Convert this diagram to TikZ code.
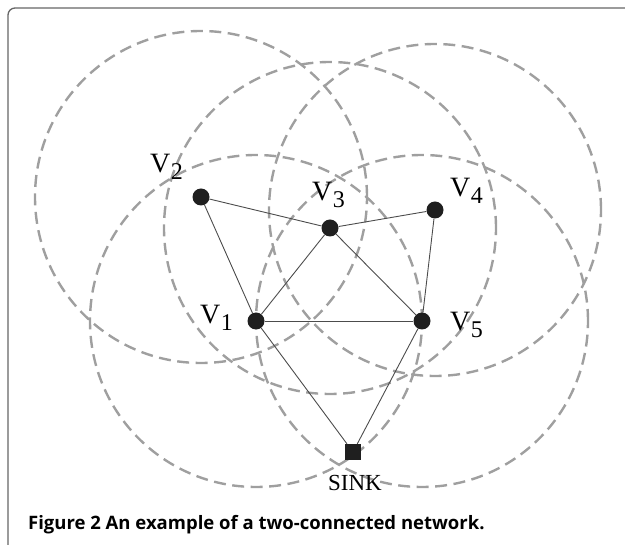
\documentclass[tikz,border=0pt]{standalone}
\usepackage{fontspec}
\setmainfont{Liberation Serif}
\newfontfamily\capfont{Open Sans}
\usetikzlibrary{positioning}

\begin{document}
\begin{tikzpicture}[x=1pt, y=-1pt,
  sensor/.style={circle, fill=black!88, inner sep=0pt, minimum size=17pt},
  sinkbox/.style={rectangle, fill=black!88, inner sep=0pt, minimum size=16pt},
  txrange/.style={gray!75, line width=2.4pt, dash pattern=on 12pt off 6.5pt},
  link/.style={black!70, line width=0.9pt},
  vname/.style={anchor=base west, inner sep=0pt, font=\fontsize{28}{28}\selectfont}]

\useasboundingbox (0,0) rectangle (625,545);

% Frame
\draw[black!60, line width=1.3pt, rounded corners=7pt] (8,548) -- (8,8) -- (628,8);

% Sensor positions
\coordinate (p1) at (256,321);
\coordinate (p2) at (201,197);
\coordinate (p3) at (330,228);
\coordinate (p4) at (435,210);
\coordinate (p5) at (422,321);

% Transmission ranges
\foreach \n in {p1,p2,p3,p4,p5}
  \draw[txrange] (\n) circle[radius=166pt];

% Sensor nodes
\node[sensor] (v1) at (p1) {};
\node[sensor] (v2) at (p2) {};
\node[sensor] (v3) at (p3) {};
\node[sensor] (v4) at (p4) {};
\node[sensor] (v5) at (p5) {};
\node[sinkbox] (sink) at (353,452) {};

% Links
\draw[link] (v2) -- (v3);
\draw[link] (v2) -- (v1);
\draw[link] (v3) -- (v4);
\draw[link] (v3) -- (v1);
\draw[link] (v3) -- (v5);
\draw[link] (v4) -- (v5);
\draw[link] (v1) -- (v5);
\draw[link] (v1) -- (sink);
\draw[link] (v5) -- (sink);

% Node names
\newcommand{\vsub}[1]{V\kern0.5pt\raisebox{-7pt}{\fontsize{24}{24}\selectfont #1}}
\node[vname] (n1) at (200,324) {\vsub{1}};
\node[vname] (n2) at (150,173) {\vsub{2}};
\node[vname] (n3) at (312,201) {\vsub{3}};
\node[vname] (n4) at (450,197) {\vsub{4}};
\node[vname] (n5) at (450,331) {\vsub{5}};
\node[anchor=base, inner sep=0pt, font=\fontsize{23}{23}\selectfont] (sinkname) at (355,491) {SINK};

% Caption
\node[anchor=base west, inner sep=0pt, font=\capfont\bfseries\fontsize{18.5}{18.5}\selectfont] (caption) at (28,530)
  {Figure 2 An example of a two-connected network.};

\end{tikzpicture}
\end{document}
